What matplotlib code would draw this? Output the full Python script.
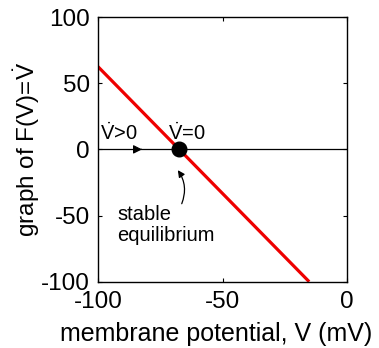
"""Phase line of a linear membrane model: F(V) vs V with a stable equilibrium."""
import matplotlib
matplotlib.use("Agg")
import matplotlib.pyplot as plt
from matplotlib.patches import FancyArrowPatch

plt.rcParams['font.family'] = ['Liberation Sans', 'DejaVu Sans']
plt.rcParams['mathtext.fontset'] = 'custom'
plt.rcParams['mathtext.rm'] = 'Liberation Sans'
plt.rcParams['mathtext.it'] = 'Liberation Sans'
plt.rcParams['axes.unicode_minus'] = False

# data
V_line = [-100, -15.2]          # mV
F_line = [62.5, -100]           # F(V)
V_eq, F_eq = -67.4, 0           # stable equilibrium
V_arrow = -81.2                 # tip of the flow arrow on the zero line
xticks = [-100, -50, 0]
yticks = [-100, -50, 0, 50, 100]

fig = plt.figure(figsize=(3.79, 3.48), dpi=100)
ax = fig.add_axes([0.2586, 0.1905, 0.6570, 0.7605])

ax.axhline(0, color='black', lw=0.9)
ax.plot(V_line, F_line, color='#ee0000', lw=2.3, solid_capstyle='butt')
ax.plot([V_eq], [F_eq], 'o', color='black', ms=10.5, zorder=5)

# right-pointing arrow head on the zero line
ax.annotate('', xy=(V_arrow, 0), xytext=(V_arrow - 2.5, 0),
            arrowprops=dict(arrowstyle='-|>', color='black', lw=0.8,
                            mutation_scale=13))

ax.text(-99.2, 7, r'$\dot{\mathrm{V}}$>0', fontsize=14.5, ha='left', va='baseline')
ax.text(-72, 7, r'$\dot{\mathrm{V}}$=0', fontsize=14.5, ha='left', va='baseline')

arr = FancyArrowPatch((-66.8, -43), (-68.6, -14), connectionstyle='arc3,rad=0.3',
                      arrowstyle='-|>', mutation_scale=10, color='black', lw=0.9)
ax.add_patch(arr)
ax.text(-92.4, -57, 'stable\nequilibrium', fontsize=14.5, ha='left', va='center',
        linespacing=1.1)

ax.set_xlim(-100, 0)
ax.set_ylim(-100, 100)
ax.set_xticks(xticks)
ax.set_yticks(yticks)
ax.tick_params(direction='in', length=3, width=0.8, labelsize=17.5,
               top=True, right=True)
ax.tick_params(axis='y', pad=6)
ax.tick_params(axis='x', pad=7)
for s in ax.spines.values():
    s.set_linewidth(1.0)

ax.set_xlabel('membrane potential, V (mV)', fontsize=18)
ax.set_ylabel(r'graph of F(V)=$\dot{\mathrm{V}}$', fontsize=17.5)
ax.xaxis.set_label_coords(0.474, -0.153)
ax.yaxis.set_label_coords(-0.225, 0.5)

fig.savefig("out.png", dpi=100)
